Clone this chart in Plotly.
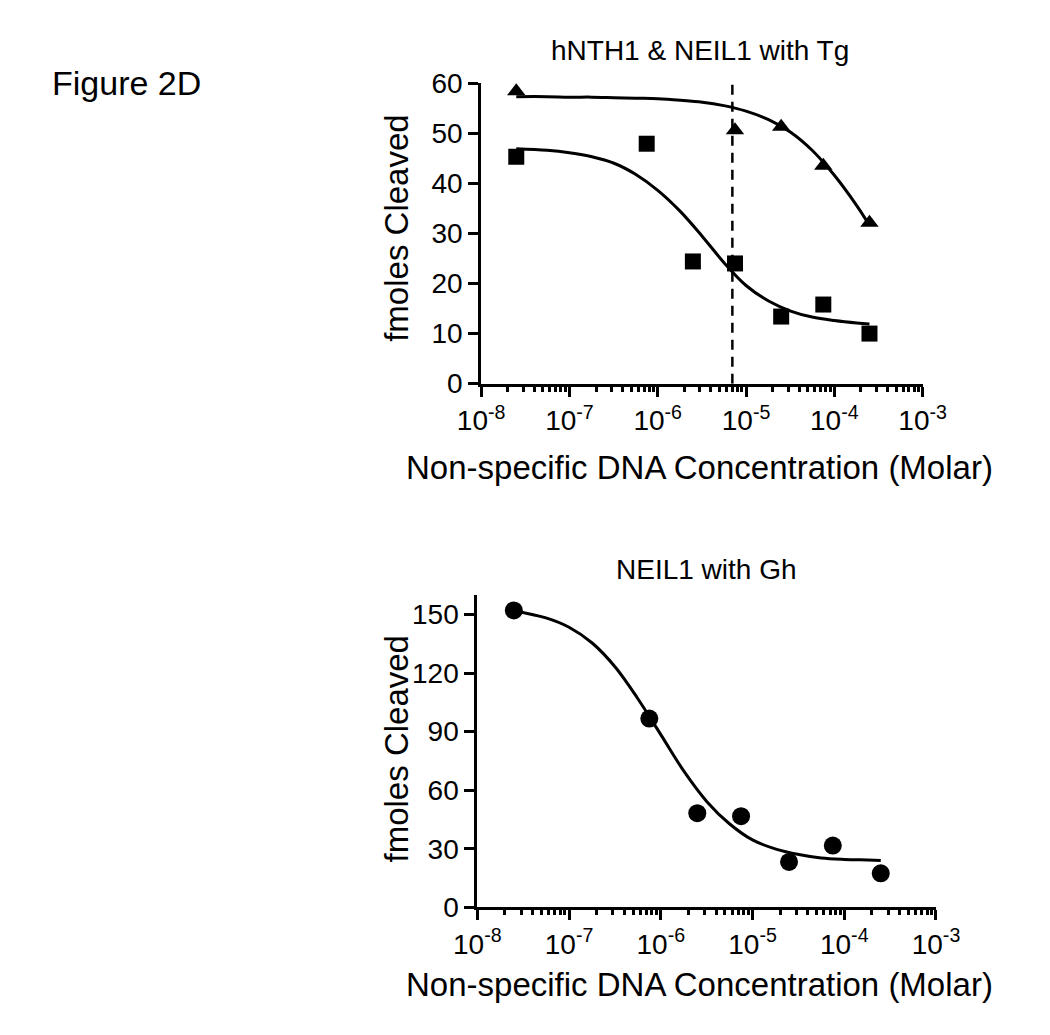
import plotly.graph_objects as go

# concentrations (Molar) used for both panels
conc = [2.5e-8, 7.5e-7, 2.5e-6, 7.5e-6, 2.5e-5, 7.5e-5, 2.5e-4]

# top panel: hNTH1 & NEIL1 with Tg
square_y = [45.3, 47.9, 24.4, 24.0, 13.4, 15.8, 10.0]
tri_x = [2.5e-8, 7.5e-6, 2.5e-5, 7.5e-5, 2.5e-4]
tri_y = [58.4, 50.6, 51.3, 43.5, 32.1]

# bottom panel: NEIL1 with Gh
circle_y = [152.1, 96.7, 48.2, 46.7, 23.2, 31.6, 17.4]

# fitted curves
fit_x = [2.5e-8, 5.6e-8, 1e-7, 1.8e-7, 3.2e-7, 5.6e-7, 1e-6, 1.8e-6, 3.2e-6,
         5.6e-6, 1e-5, 1.8e-5, 3.2e-5, 5.6e-5, 1e-4, 1.8e-4, 2.5e-4]
square_fit = [46.9, 46.6, 46.1, 45.3, 44.0, 41.8, 38.6, 34.4, 29.4,
              24.2, 19.6, 16.5, 14.5, 13.3, 12.6, 12.1, 11.9]
tri_fit = [57.3, 57.3, 57.2, 57.2, 57.1, 57.0, 56.9, 56.6, 56.2,
           55.5, 54.4, 52.7, 50.2, 46.6, 41.6, 35.5, 31.6]
circle_fit = [152.0, 148.3, 143.5, 135.3, 123.0, 107.0, 88.5, 69.5, 54.0,
              42.8, 34.5, 29.8, 27.0, 25.2, 24.5, 24.2, 24.0]

# dashed reference line in the top panel
vline_x = [7e-6, 7e-6]
vline_y = [0, 61]

x_tickvals = [1e-8, 1e-7, 1e-6, 1e-5, 1e-4, 1e-3]
x_ticktext = ['10<sup>-8</sup>', '10<sup>-7</sup>', '10<sup>-6</sup>',
              '10<sup>-5</sup>', '10<sup>-4</sup>', '10<sup>-3</sup>']
top_yticks = [0, 10, 20, 30, 40, 50, 60]
bottom_yticks = [0, 30, 60, 90, 120, 150]

FONT = 'Liberation Sans, Arial, sans-serif'
# the page body has an 8px margin, so the figure is drawn 8px in
OFF = 8
W, H = 1050 - 2 * OFF, 1035 - 2 * OFF


def px(x):
    return (x - OFF) / W


def py(y):
    return 1 - (y - OFF) / H


fig = go.Figure()

# top panel
fig.add_trace(go.Scatter(x=vline_x, y=vline_y, mode='lines',
                         line=dict(color='black', width=2.5, dash='10px,7px'),
                         xaxis='x', yaxis='y'))
fig.add_trace(go.Scatter(x=fit_x, y=tri_fit, mode='lines', line_shape='spline',
                         line=dict(color='black', width=3),
                         xaxis='x', yaxis='y'))
fig.add_trace(go.Scatter(x=fit_x, y=square_fit, mode='lines', line_shape='spline',
                         line=dict(color='black', width=3),
                         xaxis='x', yaxis='y'))
fig.add_trace(go.Scatter(x=tri_x, y=tri_y, mode='markers',
                         marker=dict(symbol='triangle-up', size=16, color='black'),
                         xaxis='x', yaxis='y', cliponaxis=False))
fig.add_trace(go.Scatter(x=conc, y=square_y, mode='markers',
                         marker=dict(symbol='square', size=16, color='black'),
                         xaxis='x', yaxis='y', cliponaxis=False))

# bottom panel
fig.add_trace(go.Scatter(x=fit_x, y=circle_fit, mode='lines', line_shape='spline',
                         line=dict(color='black', width=3),
                         xaxis='x2', yaxis='y2'))
fig.add_trace(go.Scatter(x=conc, y=circle_y, mode='markers',
                         marker=dict(symbol='circle', size=18, color='black'),
                         xaxis='x2', yaxis='y2', cliponaxis=False))


def xaxis(domain, anchor):
    return dict(type='log', range=[-8, -3], domain=domain, anchor=anchor,
                tickvals=x_tickvals, ticktext=x_ticktext,
                ticks='outside', ticklen=10, tickwidth=3, tickcolor='black',
                minor=dict(ticks='outside', ticklen=5, tickwidth=2.5,
                           tickcolor='black', dtick='D1', showgrid=False),
                showline=True, linewidth=3, linecolor='black',
                showgrid=False, zeroline=False,
                tickfont=dict(family=FONT, size=28, color='black'))


def yaxis(domain, anchor, rng, ticks):
    return dict(range=rng, domain=domain, anchor=anchor, tickvals=ticks,
                ticks='outside', ticklen=10, tickwidth=3, tickcolor='black',
                showline=True, linewidth=3, linecolor='black',
                showgrid=False, zeroline=False,
                tickfont=dict(family=FONT, size=28, color='black'))


fig.update_layout(
    width=W, height=H,
    margin=dict(l=0, r=0, t=0, b=0),
    paper_bgcolor='white', plot_bgcolor='white',
    showlegend=False,
    font=dict(family=FONT, color='black'),
    xaxis=xaxis([px(479), px(942)], 'y'),
    yaxis=yaxis([py(380), py(70)], 'x', [0, 60], top_yticks),
    xaxis2=xaxis([px(475), px(956)], 'y2'),
    yaxis2=yaxis([py(920), py(598)], 'x2', [0, 160], bottom_yticks),
)

annotations = [
    dict(text='Figure 2D', x=px(27), y=py(70), xanchor='left', yanchor='middle',
         font=dict(size=34)),
    dict(text='hNTH1 &amp; NEIL1 with Tg', x=px(708), y=py(36),
         xanchor='center', yanchor='middle', font=dict(size=28)),
    dict(text='NEIL1 with Gh', x=px(715), y=py(572),
         xanchor='center', yanchor='middle', font=dict(size=28)),
    dict(text='fmoles Cleaved', x=px(390), y=py(220), textangle=-90,
         xanchor='center', yanchor='middle', font=dict(size=33)),
    dict(text='fmoles Cleaved', x=px(390), y=py(757), textangle=-90,
         xanchor='center', yanchor='middle', font=dict(size=33)),
    dict(text='Non-specific DNA Concentration (Molar)', x=px(708), y=py(466),
         xanchor='center', yanchor='middle', font=dict(size=33)),
    dict(text='Non-specific DNA Concentration (Molar)', x=px(708), y=py(1000),
         xanchor='center', yanchor='middle', font=dict(size=33)),
]
for a in annotations:
    a.update(xref='paper', yref='paper', showarrow=False)
    a['font'] = dict(family=FONT, color='black', **a['font'])
fig.update_layout(annotations=annotations)

fig.write_html('out.html')
